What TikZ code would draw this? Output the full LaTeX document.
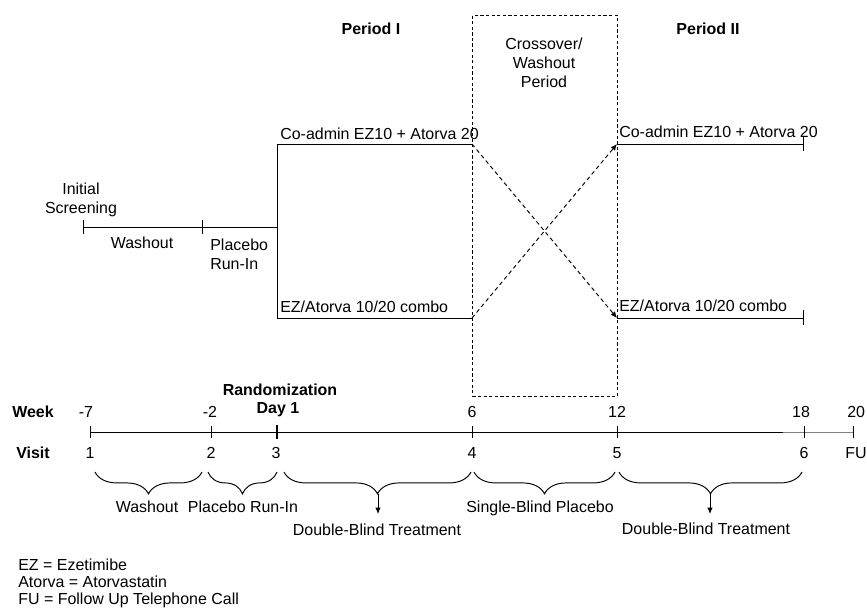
\documentclass[tikz,border=0pt]{standalone}
\usepackage{fontspec}
\setmainfont{Liberation Sans}
\usetikzlibrary{arrows.meta,decorations.pathreplacing,positioning}

\tikzset{
  lbl/.style={inner sep=0pt, font=\fontsize{10}{12}\selectfont},
  hd/.style={inner sep=0pt, font=\fontsize{10}{12}\selectfont\bfseries},
  arm/.style={line width=0.6pt},
  xarrow/.style={line width=0.6pt, dash pattern=on 2.5pt off 2pt, -{Latex[length=4pt,width=3.5pt]}},
  curly/.style={line width=0.6pt, decorate, decoration={brace, mirror, amplitude=0.48cm}},
  pointer/.style={line width=0.6pt, -{Latex[length=4pt,width=3.5pt]}},
}

\begin{document}
\begin{tikzpicture}[x=0.022cm, y=-0.022cm, every node/.style={lbl}]
        \useasboundingbox (0, 0) rectangle (867, 610);

        % treatment arms
        \node[hd] at (371, 29)(p1){Period I};
        \node[hd] at (708, 29)(p2){Period II};
        \node[draw, dash pattern=on 2pt off 1.5pt, line width=0.6pt, minimum width=3.19cm, minimum height=8.38cm, anchor=north west] at (472, 15)(xo){};
        \node[align=center] at (544, 63)(xotext){Crossover/\\Washout\\Period};

        \coordinate (s0) at (83, 227);
        \coordinate (s1) at (202, 227);
        \coordinate (sp) at (277, 227);
        \coordinate (a1) at (277, 144);
        \coordinate (a2) at (277, 318);
        \coordinate (b1) at (472, 144);
        \coordinate (b2) at (472, 318);
        \coordinate (c1) at (617, 144);
        \coordinate (c2) at (617, 318);
        \coordinate (d1) at (803, 144);
        \coordinate (d2) at (803, 318);

        \node[align=center] at (81, 200)(ini){Initial\\Screening};
        \node at (142, 243)(wo){Washout};
        \node[align=left, anchor=west] at (210, 254)(pri){Placebo\\Run-In};
        \node[anchor=base west] at (280, 139)(co1){Co-admin EZ10 + Atorva 20};
        \node[anchor=base west] at (280, 312)(cb1){EZ/Atorva 10/20 combo};
        \node[anchor=base west] at (619, 137)(co2){Co-admin EZ10 + Atorva 20};
        \node[anchor=base west] at (619, 311)(cb2){EZ/Atorva 10/20 combo};

        \draw[arm] (s0) -- (sp) (a1) -- (a2) (a1) -- (b1) (a2) -- (b2) (c1) -- (d1) (c2) -- (d2);
        \draw[arm] (s0) ++(0, -7) -- ++(0, 14) (s1) ++(0, -7) -- ++(0, 14)
              (d1) ++(0, -8) -- ++(0, 15) (d2) ++(0, -8) -- ++(0, 15);
        \draw[xarrow] (b1) -- (c2);
        \draw[xarrow] (b2) -- (c1);

        % time line
        \node[hd] at (33, 412)(week){Week};
        \node[hd] at (33, 453)(visit){Visit};
        \node[hd] at (280, 390)(rand){Randomization};
        \node[hd] at (278, 410)(day1){Day 1};

        \coordinate (t1) at (90, 432);
        \coordinate (t2) at (211, 432);
        \coordinate (t3) at (277, 432);
        \coordinate (t4) at (472, 432);
        \coordinate (t5) at (617, 432);
        \coordinate (t6) at (804, 432);
        \coordinate (t7) at (853, 432);
        \coordinate (g0) at (783, 432);

        \draw[arm] (t1) -- (t6);
        \draw[arm, gray] (g0) -- (t7);
        \foreach \t in {t1, t2, t4, t5, t6, t7}
          \draw[arm] (\t) ++(0, -6) -- ++(0, 12);
        \draw[line width=1.4pt] (t3) ++(0, -7) -- ++(0, 14);

        \node at (86, 412)(wk1){-7};
        \node at (210, 412)(wk2){-2};
        \node at (472, 412)(wk4){6};
        \node at (617, 412)(wk5){12};
        \node at (801, 412)(wk6){18};
        \node[anchor=west] at (847, 412)(wk7){20};
        \node at (90, 453)(v1){1};
        \node at (211, 453)(v2){2};
        \node at (276, 453)(v3){3};
        \node at (472, 453)(v4){4};
        \node at (617, 453)(v5){5};
        \node at (804, 453)(v6){6};
        \node[anchor=west] at (845, 453)(v7){FU};

        % phases
        \coordinate (k1) at (95, 472);
        \coordinate (k2) at (202, 472);
        \coordinate (k3) at (208, 472);
        \coordinate (k4) at (277, 472);
        \coordinate (k5) at (284, 472);
        \coordinate (k6) at (471, 472);
        \coordinate (k7) at (474, 472);
        \coordinate (k8) at (615, 472);
        \coordinate (k9) at (619, 472);
        \coordinate (k10) at (802, 472);
        \coordinate (tip1) at (378, 494);
        \coordinate (tip2) at (710, 494);
        \coordinate (end1) at (378, 514);
        \coordinate (end2) at (710, 514);

        \draw[curly] (k1) -- (k2);
        \draw[curly] (k3) -- (k4);
        \draw[curly] (k5) -- (k6);
        \draw[curly] (k7) -- (k8);
        \draw[curly] (k9) -- (k10);
        \draw[pointer] (tip1) -- (end1);
        \draw[pointer] (tip2) -- (end2);

        \node at (147, 507)(ph1){Washout};
        \node at (243, 507)(ph2){Placebo Run-In};
        \node at (377, 530)(ph3){Double-Blind Treatment};
        \node at (540, 508)(ph4){Single-Blind Placebo};
        \node at (706, 529)(ph5){Double-Blind Treatment};

        % legend
        \node[align=left, anchor=north west, font=\fontsize{10}{10.4}\selectfont] at (18, 559)(key){EZ = Ezetimibe\\Atorva = Atorvastatin\\FU = Follow Up Telephone Call};
\end{tikzpicture}
\end{document}
